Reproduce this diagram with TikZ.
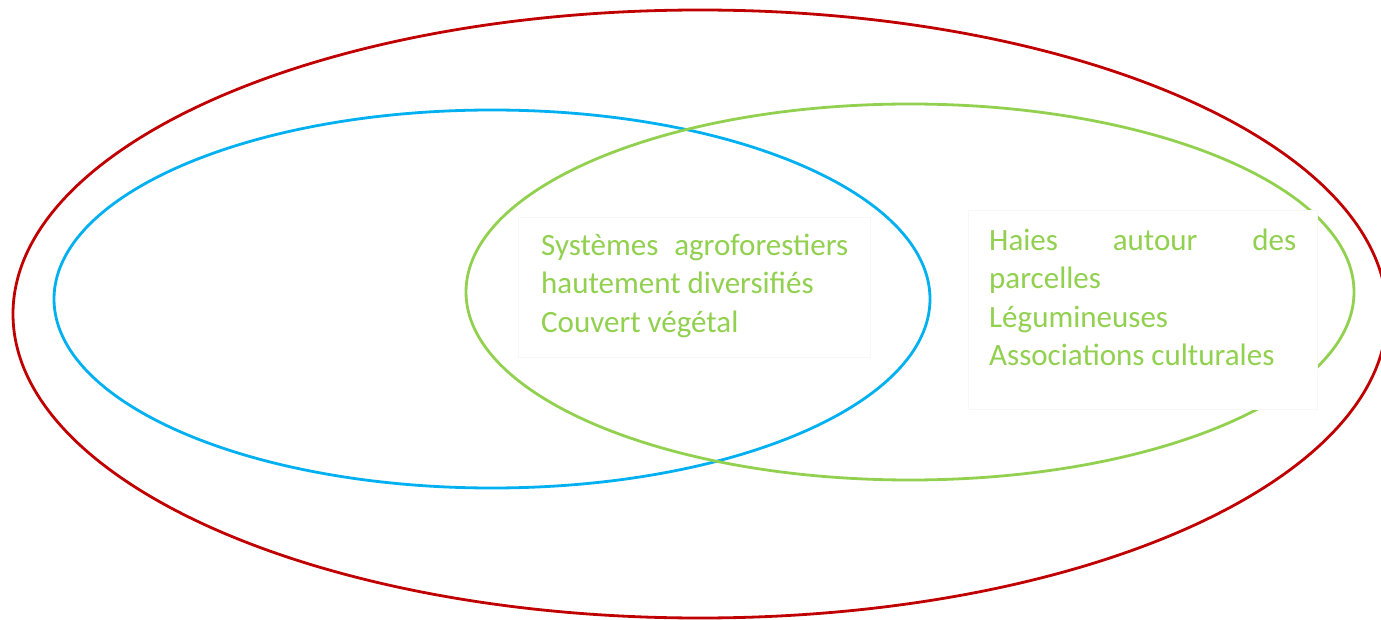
\documentclass[tikz,border=0pt]{standalone}
\usepackage{fontspec}
\setmainfont{Carlito}
\definecolor{redc}{HTML}{C00000}
\definecolor{bluec}{HTML}{00B0F0}
\definecolor{greenc}{HTML}{92D050}
\tikzset{
  ring/.style={line width=2.8pt},
  txtbox/.style={fill=white, draw=black!3, line width=0.6pt, anchor=north west, inner sep=0pt},
  txt/.style={text=greenc, font=\fontsize{31}{38}\selectfont, anchor=base west, inner sep=0pt},
}
\begin{document}
\begin{tikzpicture}[x=1pt,y=-1pt]
\useasboundingbox (0,0) rectangle (1381,620);
\clip (0,0) rectangle (1381,620);
\draw[ring, redc] (700,314) ellipse [x radius=687pt, y radius=304pt];
\draw[ring, bluec] (492,299) ellipse [x radius=438pt, y radius=189pt];
\draw[ring, greenc] (910,292) ellipse [x radius=444pt, y radius=188pt];
\node[txtbox, minimum width=352pt, minimum height=140pt] (boxL) at (518,217) {};
\node[txtbox, minimum width=349pt, minimum height=199pt] (boxR) at (968,210) {};
\node[txt] (l1) at (541,256) {\hbox to 307pt{Systèmes\hfill agroforestiers}};
\node[txt] (l2) at (541,294) {hautement diversifiés};
\node[txt] (l3) at (541,332) {Couvert végétal};
\node[txt] (r1) at (989,251) {\hbox to 307pt{Haies\hfill autour\hfill des}};
\node[txt] (r2) at (989,289) {parcelles};
\node[txt] (r3) at (989,327) {Légumineuses};
\node[txt] (r4) at (989,365) {Associations culturales};
\end{tikzpicture}
\end{document}
